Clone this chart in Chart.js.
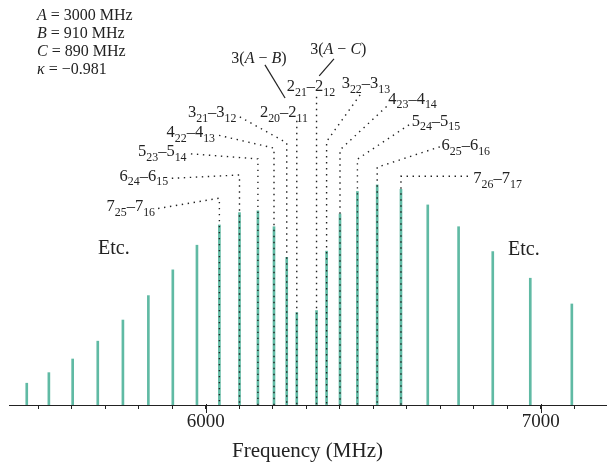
<!DOCTYPE html>
<html>
<head>
<meta charset="utf-8">
<script src="https://cdn.jsdelivr.net/npm/chart.js@4"></script>
<style>
  html, body { margin: 0; padding: 0; background: #fff; }
  #chart { display: block; }
</style>
</head>
<body>
<canvas id="chart" width="607" height="464"></canvas>
<script>
// Stick spectrum (MHz) and relative intensities
const freqs = [5466, 5532, 5603, 5678, 5753, 5829, 5902, 5974, 6041, 6101, 6156, 6204, 6242,
  6272, 6331, 6361, 6401, 6453, 6512, 6583, 6663, 6755, 6857, 6969, 7093];
const intensity = [9.9, 14.7, 20.9, 29.0, 38.6, 49.7, 61.4, 72.6, 81.8, 87.4, 88.2, 81.0, 67.1,
  42.0, 42.9, 69.9, 86.8, 97.0, 100, 98.0, 90.9, 81.0, 69.7, 57.6, 45.9];
const tickLabels = [6000, 7000];

// Assigned transitions and which stick each one belongs to
const lineLabels = ['7_{25}–7_{16}', '6_{24}–6_{15}', '5_{23}–5_{14}', '4_{22}–4_{13}', '3_{21}–3_{12}',
  '2_{20}–2_{11}', '2_{21}–2_{12}', '3_{22}–3_{13}', '4_{23}–4_{14}', '5_{24}–5_{15}',
  '6_{25}–6_{16}', '7_{26}–7_{17}'];
const lineStick = [8, 9, 10, 11, 12, 13, 14, 15, 16, 17, 18, 19];

const constants = ['*A* = 3000 MHz', '*B* = 910 MHz', '*C* = 890 MHz', '*κ* = −0.981'];

// label placement in axis units: text anchor, leader start, knee height
const labelLayout = [
  { at: [5849, 90.5], align: 'right', from: [5858, 89.3], knee: 94.0 },
  { at: [5888, 104.5], align: 'right', from: [5899, 103.0], knee: 104.5 },
  { at: [5943, 115.6], align: 'right', from: [5956, 114.1], knee: 111.8 },
  { at: [6028, 124.2], align: 'right', from: [6040, 122.5], knee: 116.7 },
  { at: [6092, 133.3], align: 'right', from: [6102, 130.9], knee: 119.1 },
  { at: [6162, 133.3], align: 'left', from: null, knee: 129.1 },
  { at: [6242, 145.0], align: 'left', from: null, knee: 140.0 },
  { at: [6406, 146.4], align: 'left', from: [6461, 140.9], knee: 119.7 },
  { at: [6545, 139.4], align: 'left', from: [6540, 135.6], knee: 115.9 },
  { at: [6615, 129.5], align: 'left', from: [6607, 127.3], knee: 111.7 },
  { at: [6704, 118.2], align: 'left', from: [6699, 117.3], knee: 108.0 },
  { at: [6799, 103.2], align: 'left', from: [6783, 103.9], knee: 103.9 }
];
const splitNotes = [
  { text: '3(*A* − *B*)', at: [6159, 158.0], line: [[6177, 154.5], [6237, 139.5]] },
  { text: '3(*A* − *C*)', at: [6396, 161.8], line: [[6383, 157.3], [6339, 149.5]] }
];
const etcNotes = [[5726, 71.8], [6950, 71.4]];

const SERIF = '"Liberation Serif", "DejaVu Serif", serif';
const INK = '#222';

// "7_{25}" -> subscripts, "*A*" -> italics
function parseRich(str) {
  const segs = [];
  const re = /_\{([^}]*)\}|\*([^*]*)\*|([^_*]+)/g;
  let m;
  while ((m = re.exec(str))) {
    if (m[1] !== undefined) segs.push({ t: m[1], s: 'sub' });
    else if (m[2] !== undefined) segs.push({ t: m[2], s: 'i' });
    else segs.push({ t: m[3], s: 'n' });
  }
  return segs;
}

function segFont(s, size) {
  if (s === 'sub') return `${(size * 0.72).toFixed(1)}px ${SERIF}`;
  if (s === 'i') return `italic ${size}px ${SERIF}`;
  return `${size}px ${SERIF}`;
}

// x, y: anchor point; y is the middle of the digit height
function drawRich(ctx, str, x, y, align, size) {
  const segs = parseRich(str);
  let w = 0;
  segs.forEach(sg => { ctx.font = segFont(sg.s, size); sg.w = ctx.measureText(sg.t).width; w += sg.w; });
  let cx = align === 'right' ? x - w : align === 'center' ? x - w / 2 : x;
  const base = y + size * 0.34;
  ctx.textAlign = 'left';
  ctx.textBaseline = 'alphabetic';
  ctx.fillStyle = INK;
  segs.forEach(sg => {
    ctx.font = segFont(sg.s, size);
    ctx.fillText(sg.t, cx, sg.s === 'sub' ? base + size * 0.27 : base);
    cx += sg.w;
  });
}

const annotations = {
  id: 'annotations',
  afterDraw(chart) {
    const { ctx, scales: { x, y } } = chart;
    const px = v => x.getPixelForValue(v);
    const py = v => y.getPixelForValue(v);
    const base = y.getPixelForValue(0);

    // longer ticks at the labelled frequencies
    ctx.save();
    ctx.strokeStyle = INK;
    ctx.lineWidth = 1;
    tickLabels.forEach(t => {
      const xx = Math.round(px(t)) + 0.5;
      ctx.beginPath();
      ctx.moveTo(xx, base - 1);
      ctx.lineTo(xx, base + 8);
      ctx.stroke();
    });

    // dotted leaders from each assignment down its stick
    ctx.lineWidth = 1.4;
    ctx.setLineDash([1.4, 4.6]);
    labelLayout.forEach((lay, i) => {
      const sx = px(freqs[lineStick[i]]);
      ctx.beginPath();
      if (lay.from) {
        ctx.moveTo(px(lay.from[0]), py(lay.from[1]));
        ctx.lineTo(sx, py(lay.knee));
      } else {
        ctx.moveTo(sx, py(lay.knee));
      }
      ctx.lineTo(sx, base);
      ctx.stroke();
    });
    ctx.setLineDash([]);

    // solid pointers for the 3(A-B), 3(A-C) splittings
    ctx.lineWidth = 1.2;
    splitNotes.forEach(n => {
      ctx.beginPath();
      ctx.moveTo(px(n.line[0][0]), py(n.line[0][1]));
      ctx.lineTo(px(n.line[1][0]), py(n.line[1][1]));
      ctx.stroke();
      drawRich(ctx, n.text, px(n.at[0]), py(n.at[1]), 'center', 16);
    });

    lineLabels.forEach((lbl, i) => {
      const lay = labelLayout[i];
      drawRich(ctx, lbl, px(lay.at[0]), py(lay.at[1]), lay.align, 16.5);
    });

    etcNotes.forEach(p => drawRich(ctx, 'Etc.', px(p[0]), py(p[1]), 'center', 20));

    // rotational constants
    constants.forEach((c, i) => drawRich(ctx, c, 37, 15 + i * 17.7, 'left', 16));
    ctx.restore();
  }
};

new Chart(document.getElementById('chart'), {
  type: 'bar',
  data: {
    datasets: [{
      data: freqs.map((f, i) => ({ x: f, y: intensity[i] })),
      backgroundColor: '#60baa4',
      borderWidth: 0,
      barThickness: 2
    }]
  },
  options: {
    responsive: false,
    animation: false,
    devicePixelRatio: 1,
    layout: { padding: { left: 9, right: 1, top: 0, bottom: 0 } },
    plugins: { legend: { display: false }, tooltip: { enabled: false } },
    scales: {
      x: {
        type: 'linear',
        min: 5413,
        max: 7195,
        offset: false,
        grid: { offset: false, drawOnChartArea: false, drawTicks: true, tickLength: 4, color: INK, lineWidth: 1 },
        border: { display: true, color: INK, width: 1 },
        ticks: {
          stepSize: 100,
          includeBounds: false,
          autoSkip: false,
          maxRotation: 0,
          padding: 2,
          color: INK,
          font: { family: SERIF, size: 19 },
          callback: v => tickLabels.includes(v) ? String(v) : ''
        },
        title: {
          display: true,
          text: 'Frequency (MHz)',
          color: INK,
          font: { family: SERIF, size: 21 },
          padding: { top: 3, bottom: 0 }
        }
      },
      y: { display: false, min: 0, max: 184 }
    }
  },
  plugins: [annotations]
});
</script>
</body>
</html>
